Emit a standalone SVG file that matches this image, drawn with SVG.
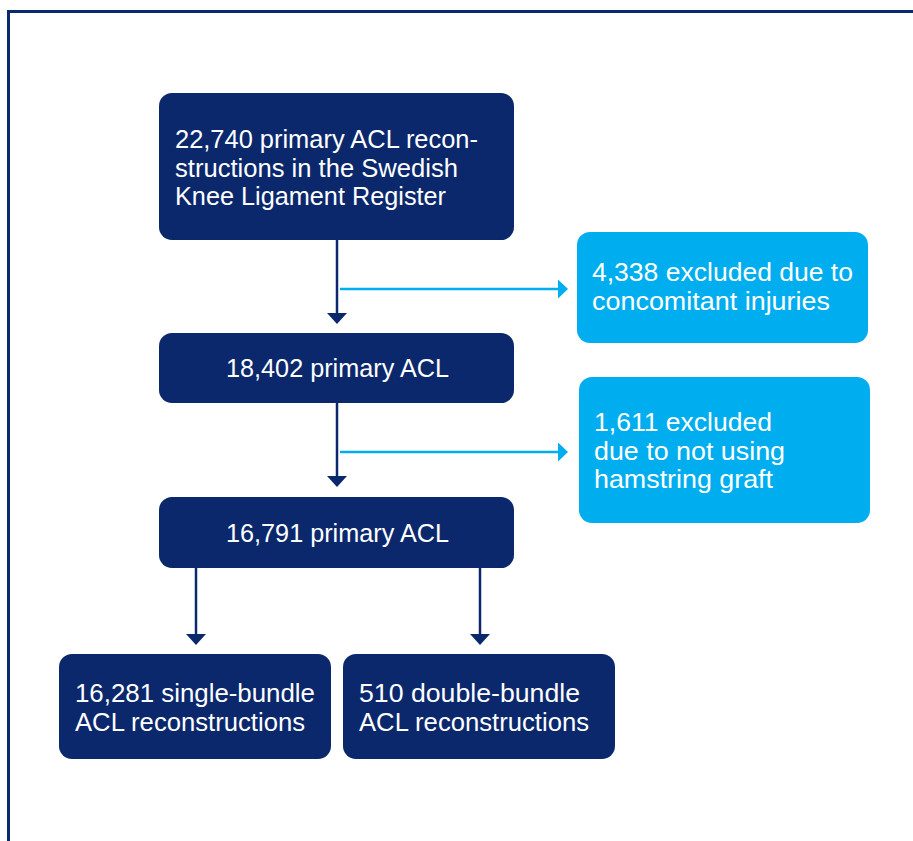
<svg xmlns="http://www.w3.org/2000/svg" width="913" height="841" viewBox="0 0 913 841">
<style>
.navy{fill:#0b286c}
.cyan{fill:#00aeef}
.t{fill:#ffffff;font-family:"Liberation Sans",Arial,sans-serif;font-size:25.5px}
.c{text-anchor:middle}
.ln{fill:none;stroke:#0b286c;stroke-width:2.5}
.lc{fill:none;stroke:#00aeef;stroke-width:2.5}
</style>
<defs>
<marker id="an" viewBox="0 0 11 20" refX="0" refY="10" markerWidth="11" markerHeight="20" markerUnits="userSpaceOnUse" orient="auto"><path d="M0,0 L11,10 L0,20 z" fill="#0b286c"/></marker>
<marker id="ac" viewBox="0 0 10 19" refX="0" refY="9.5" markerWidth="10" markerHeight="19" markerUnits="userSpaceOnUse" orient="auto"><path d="M0,0 L10,9.5 L0,19 z" fill="#00aeef"/></marker>
</defs>
<rect width="913" height="841" fill="#ffffff"/>
<path d="M8.5,841 V11.5 H913" fill="none" stroke="#0b2a6e" stroke-width="3"/>
<g id="connectors">
<line class="ln" x1="337" y1="240" x2="337" y2="313" marker-end="url(#an)"/>
<line class="lc" x1="340" y1="289" x2="558" y2="289" marker-end="url(#ac)"/>
<line class="ln" x1="337" y1="403" x2="337" y2="476" marker-end="url(#an)"/>
<line class="lc" x1="340" y1="452" x2="558" y2="452" marker-end="url(#ac)"/>
<line class="ln" x1="196" y1="568" x2="196" y2="634" marker-end="url(#an)"/>
<line class="ln" x1="480" y1="568" x2="480" y2="634" marker-end="url(#an)"/>
</g>
<g id="n1">
<rect class="navy" x="159" y="93" width="355" height="147" rx="13"/>
<text class="t" x="175" y="148" textLength="303" lengthAdjust="spacingAndGlyphs">22,740 primary ACL recon-</text>
<text class="t" x="175" y="176.5" textLength="283" lengthAdjust="spacingAndGlyphs">structions in the Swedish</text>
<text class="t" x="175" y="205" textLength="271" lengthAdjust="spacingAndGlyphs">Knee Ligament Register</text>
</g>
<g id="n2">
<rect class="cyan" x="577" y="232" width="291" height="111" rx="13"/>
<text class="t" x="592" y="281" textLength="261" lengthAdjust="spacingAndGlyphs">4,338 excluded due to</text>
<text class="t" x="592" y="310" textLength="238" lengthAdjust="spacingAndGlyphs">concomitant injuries</text>
</g>
<g id="n3">
<rect class="navy" x="159" y="333" width="355" height="70" rx="13"/>
<text class="t" x="226" y="377" textLength="223" lengthAdjust="spacingAndGlyphs">18,402 primary ACL</text>
</g>
<g id="n4">
<rect class="cyan" x="579" y="377" width="291" height="146" rx="13"/>
<text class="t" x="594" y="431" textLength="178" lengthAdjust="spacingAndGlyphs">1,611 excluded</text>
<text class="t" x="594" y="460" textLength="191" lengthAdjust="spacingAndGlyphs">due to not using</text>
<text class="t" x="594" y="488" textLength="179" lengthAdjust="spacingAndGlyphs">hamstring graft</text>
</g>
<g id="n5">
<rect class="navy" x="159" y="497" width="355" height="71" rx="13"/>
<text class="t" x="226" y="542" textLength="223" lengthAdjust="spacingAndGlyphs">16,791 primary ACL</text>
</g>
<g id="n6">
<rect class="navy" x="59" y="654" width="272" height="105" rx="13"/>
<text class="t" x="75" y="702" textLength="240" lengthAdjust="spacingAndGlyphs">16,281 single-bundle</text>
<text class="t" x="75" y="731" textLength="230" lengthAdjust="spacingAndGlyphs">ACL reconstructions</text>
</g>
<g id="n7">
<rect class="navy" x="343" y="654" width="272" height="105" rx="13"/>
<text class="t" x="359" y="702" textLength="221" lengthAdjust="spacingAndGlyphs">510 double-bundle</text>
<text class="t" x="359" y="731" textLength="230" lengthAdjust="spacingAndGlyphs">ACL reconstructions</text>
</g>
</svg>
